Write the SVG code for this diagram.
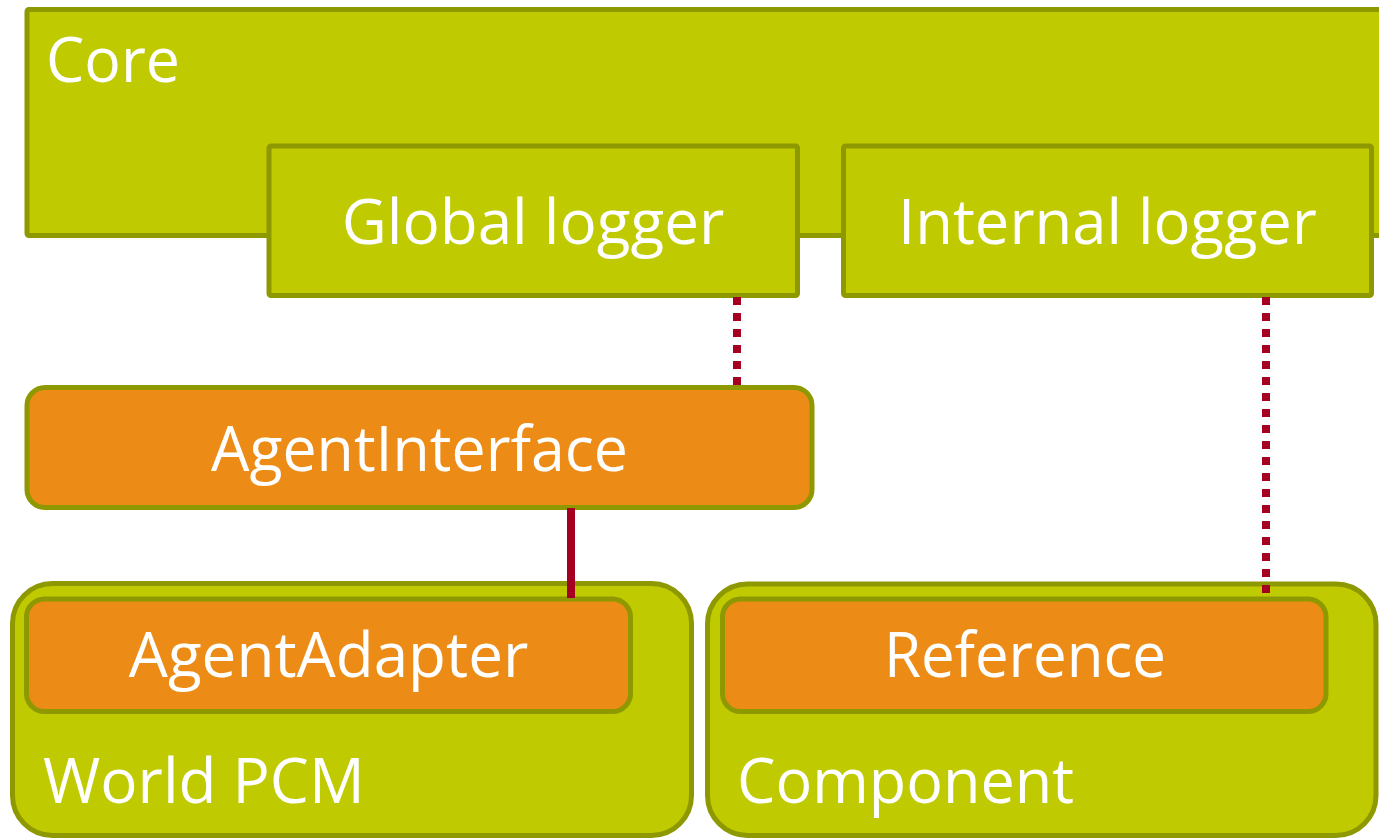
<svg xmlns="http://www.w3.org/2000/svg" width="1379" height="839" viewBox="0 0 1379 839">
  <style>
    .box { fill: #BFCA00; stroke: #8E9800; stroke-width: 5; }
    .agent { fill: #EC8C17; stroke: #8E9800; stroke-width: 5; }
    .lbl { font-family: "Open Sans", "Noto Sans", "DejaVu Sans", sans-serif; font-size: 62px; fill: #FFFFFF; }
    .mid { text-anchor: middle; }
    .link { stroke: #A50021; stroke-width: 8; fill: none; }
    .dots { stroke-dasharray: 8 8; }
  </style>
  <rect x="0" y="0" width="1379" height="839" fill="#FFFFFF"/>

  <g id="core">
    <rect class="box" x="27" y="9.5" width="1372" height="226" rx="2"/>
    <text class="lbl" x="46" y="82" textLength="134" lengthAdjust="spacingAndGlyphs">Core</text>
  </g>

  <g id="global-logger">
    <rect class="box" x="269" y="146" width="528.5" height="149.5" rx="2"/>
    <text class="lbl mid" x="533" y="244">Global logger</text>
  </g>

  <g id="internal-logger">
    <rect class="box" x="843.5" y="146" width="528" height="149.5" rx="2"/>
    <text class="lbl mid" x="1107.5" y="244" textLength="419" lengthAdjust="spacingAndGlyphs">Internal logger</text>
  </g>

  <g id="agent-interface">
    <rect class="agent" x="27" y="387.5" width="785" height="120" rx="18"/>
    <text class="lbl mid" x="419.5" y="471" textLength="417" lengthAdjust="spacingAndGlyphs">AgentInterface</text>
  </g>

  <g id="world-pcm">
    <rect class="box" x="12.5" y="583.5" width="679" height="252" rx="40"/>
    <text class="lbl" x="43" y="803">World PCM</text>
  </g>

  <g id="agent-adapter">
    <rect class="agent" x="26.5" y="599" width="604" height="112.5" rx="18"/>
    <text class="lbl mid" x="328.5" y="677">AgentAdapter</text>
  </g>

  <g id="component">
    <rect class="box" x="707.5" y="584" width="668.5" height="251.5" rx="40"/>
    <text class="lbl" x="737" y="803" textLength="337" lengthAdjust="spacingAndGlyphs">Component</text>
  </g>

  <g id="reference">
    <rect class="agent" x="722.5" y="599" width="603.5" height="112.5" rx="18"/>
    <text class="lbl mid" x="1025" y="677" textLength="282" lengthAdjust="spacingAndGlyphs">Reference</text>
  </g>

  <g id="connectors">
    <line class="link dots" x1="737" y1="297" x2="737" y2="385"/>
    <line class="link dots" x1="1266" y1="297" x2="1266" y2="593"/>
    <line class="link" x1="571" y1="508" x2="571" y2="598"/>
  </g>
</svg>
